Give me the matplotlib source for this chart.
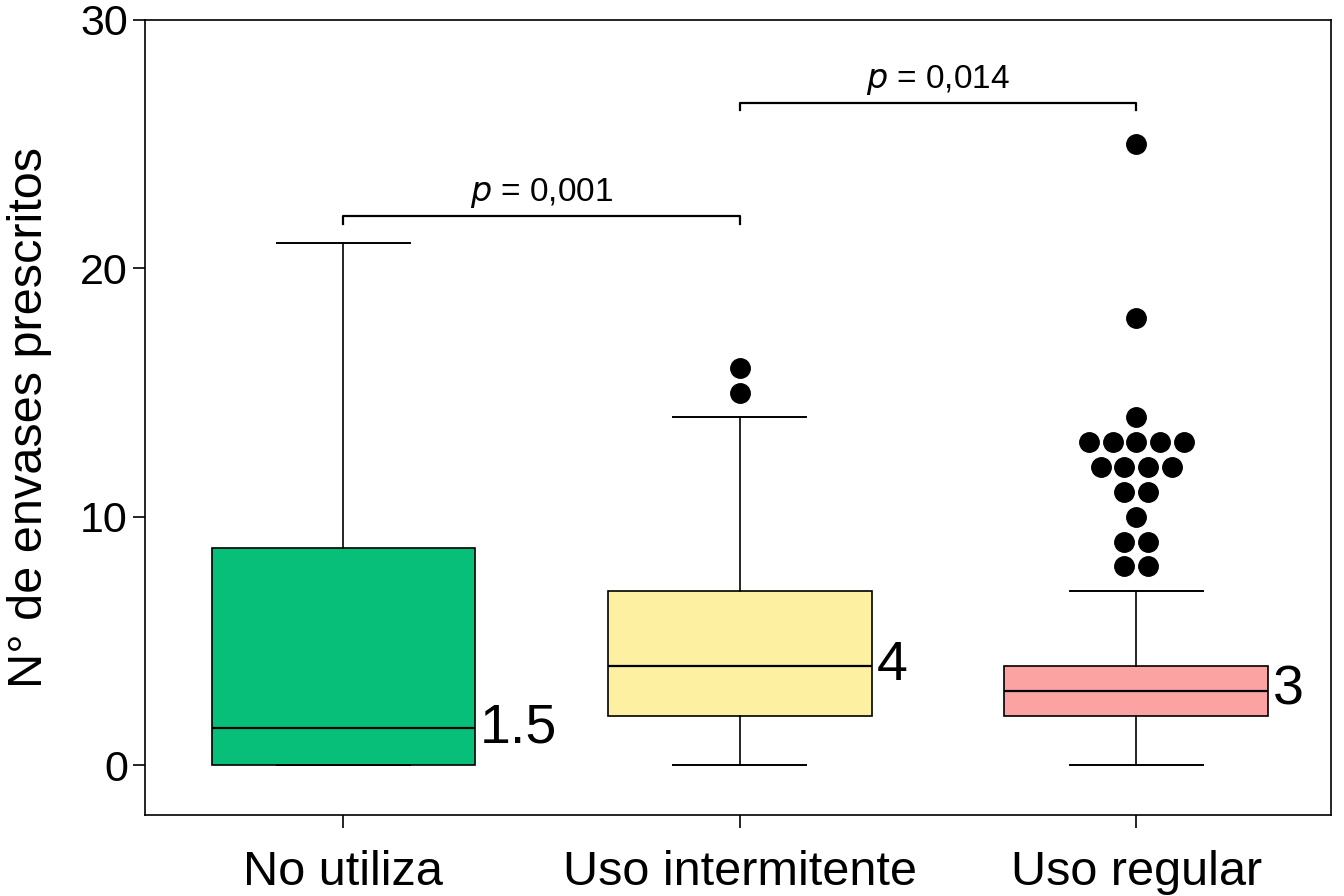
import numpy as np
import matplotlib
matplotlib.use("Agg")
import matplotlib.pyplot as plt

plt.rcParams['font.family'] = ['Liberation Sans', 'DejaVu Sans']

# datos
grupos = ["No utiliza", "Uso intermitente", "Uso regular"]
q1 = [0, 2, 2]
mediana = [1.5, 4, 3]
q3 = [8.75, 7, 4]
bigote_inf = [0, 0, 0]
bigote_sup = [21, 14, 7]
atipicos = [
    [],
    [15, 16],
    [8, 8, 9, 9, 10, 11, 11, 12, 12, 12, 12, 13, 13, 13, 13, 13, 14, 18, 25],
]
etiquetas_mediana = ["1.5", "4", "3"]
colores = ["#07BF78", "#FDF0A0", "#FBA3A3"]
comparaciones = [(0, 1, 22.1, "0,001"), (1, 2, 26.65, "0,014")]

fig = plt.figure(figsize=(13.44, 8.96), dpi=100)
ax = fig.add_axes([0.108, 0.0904, 0.882, 0.8876])

stats = []
for i in range(len(grupos)):
    stats.append({"q1": q1[i], "med": mediana[i], "q3": q3[i],
                  "whislo": bigote_inf[i], "whishi": bigote_sup[i],
                  "fliers": []})

pos = np.arange(len(grupos))
bp = ax.bxp(stats, positions=pos, widths=0.665, capwidths=0.335,
            showfliers=False, patch_artist=True,
            boxprops=dict(linewidth=1.2, edgecolor="black"),
            medianprops=dict(color="black", linewidth=1.6),
            whiskerprops=dict(color="black", linewidth=1.2),
            capprops=dict(color="black", linewidth=1.4))
for caja, c in zip(bp["boxes"], colores):
    caja.set_facecolor(c)

# puntos atipicos apilados horizontalmente
paso = 0.06
for i, vals in enumerate(atipicos):
    for v in sorted(set(vals)):
        n = vals.count(v)
        dx = (np.arange(n) - (n - 1) / 2) * paso
        ax.plot(pos[i] + dx, [v] * n, "o", color="black", markersize=14,
                linestyle="none")

# etiquetas de la mediana
for i, txt in enumerate(etiquetas_mediana):
    ax.text(pos[i] + 0.345, mediana[i], txt, fontsize=40,
            ha="left", va="center")

# comparaciones
for a, b, y, p in comparaciones:
    ax.plot([pos[a], pos[a], pos[b], pos[b]], [y - 0.3, y, y, y - 0.3],
            color="black", linewidth=1.6)
    ax.text((pos[a] + pos[b]) / 2, y + 0.25, r"$\it{p}$ = " + p,
            fontsize=24, ha="center", va="bottom")

ax.set_xlim(-0.5, 2.49)
ax.set_ylim(-2, 30)
ax.set_yticks([0, 10, 20, 30])
ax.set_xticks(pos)
ax.set_xticklabels(grupos)
ax.tick_params(axis="y", labelsize=31, length=9, width=1.2)
ax.tick_params(axis="x", labelsize=35, length=9, width=1.2, pad=16)
ax.set_ylabel("N° de envases prescritos", fontsize=35, labelpad=20)
for s in ax.spines.values():
    s.set_linewidth(1.2)

fig.savefig("out.png", dpi=100)
